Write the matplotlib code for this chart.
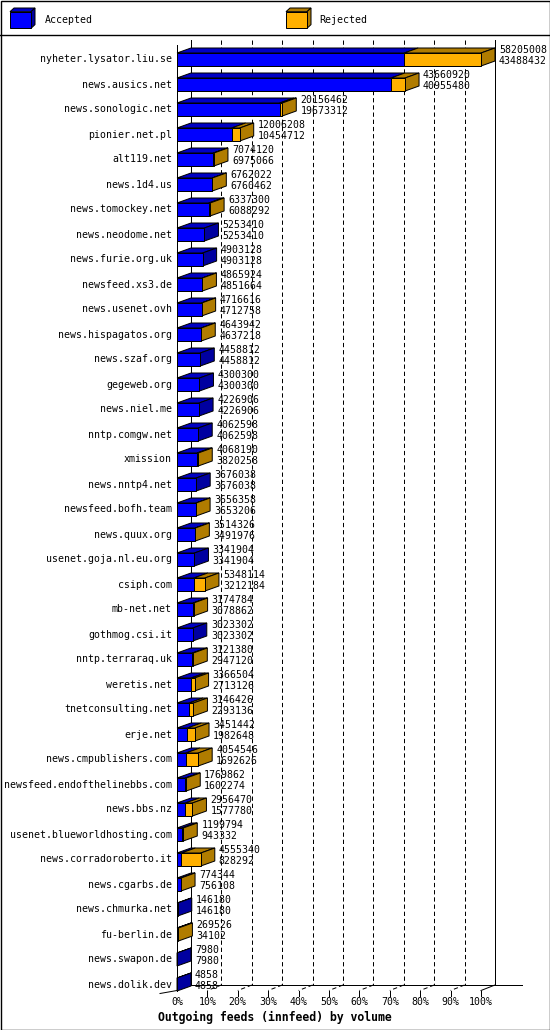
import matplotlib
matplotlib.use("Agg")
import matplotlib.pyplot as plt
from matplotlib.patches import Polygon, Rectangle

# feeds, offered total (top number) and accepted (bottom number)
hosts = [
    "nyheter.lysator.liu.se", "news.ausics.net", "news.sonologic.net",
    "pionier.net.pl", "alt119.net", "news.1d4.us", "news.tomockey.net",
    "news.neodome.net", "news.furie.org.uk", "newsfeed.xs3.de",
    "news.usenet.ovh", "news.hispagatos.org", "news.szaf.org",
    "gegeweb.org", "news.niel.me", "nntp.comgw.net", "xmission",
    "news.nntp4.net", "newsfeed.bofh.team", "news.quux.org",
    "usenet.goja.nl.eu.org", "csiph.com", "mb-net.net", "gothmog.csi.it",
    "nntp.terraraq.uk", "weretis.net", "tnetconsulting.net", "erje.net",
    "news.cmpublishers.com", "newsfeed.endofthelinebbs.com", "news.bbs.nz",
    "usenet.blueworldhosting.com", "news.corradoroberto.it",
    "news.cgarbs.de", "news.chmurka.net", "fu-berlin.de",
    "news.swapon.de", "news.dolik.dev",
]
offered = [
    58205008, 43660920, 20156462, 12006208, 7074120, 6762022, 6337300,
    5253410, 4903128, 4865924, 4716616, 4643942, 4458812, 4300300,
    4226906, 4062598, 4068190, 3676038, 3656358, 3514326, 3341904,
    5348114, 3174784, 3023302, 3121380, 3366504, 3146426, 3451442,
    4054546, 1769862, 2956470, 1199794, 4555340, 774344, 146180,
    269526, 7980, 4858,
]
accepted = [
    43488432, 40955480, 19673312, 10454712, 6975066, 6760462, 6088292,
    5253410, 4903128, 4851664, 4712758, 4637218, 4458812, 4300300,
    4226906, 4062598, 3820258, 3676038, 3653206, 3491976, 3341904,
    3212184, 3078862, 3023302, 2947120, 2713126, 2293136, 1982648,
    1692626, 1602274, 1577780, 943332, 828292, 756108, 146180,
    34102, 7980, 4858,
]
pct_ticks = [0, 10, 20, 30, 40, 50, 60, 70, 80, 90, 100]

BLUE = "#0000ff"
BLUE_TOP = "#0000c4"
BLUE_SIDE = "#0000a0"
ORANGE = "#ffb000"
ORANGE_DARK = "#b07c00"
FONT = "DejaVu Sans Mono"
FS = 7.1
LW = 0.72

W, H = 550, 1030
X0, X1 = 177, 481          # front 0% and 100% in pixels
ROW0, STEP = 59.5, 25.0    # first row centre, row pitch
DX, DY = 14, 5             # depth offset of the 3d look

vmax = max(offered)
s = vmax / (X1 - X0)       # bytes per pixel


def xd(px):
    return (px - X0) * s


def yd(px):
    return (px - ROW0) / STEP


fig = plt.figure(figsize=(W / 100, H / 100), dpi=100)

# pixel axes for frame and legend
pax = fig.add_axes([0, 0, 1, 1])
pax.set_xlim(0, W)
pax.set_ylim(H, 0)
pax.axis("off")

# data axes: x in bytes, y in rows
ax = fig.add_axes([0, 0, 1, 1])
ax.set_xlim(xd(0), xd(W))
ax.set_ylim(yd(H), yd(0))
ax.axis("off")
ax.patch.set_alpha(0)

ddx = DX * s
ddy = -DY / STEP
hh = 6.5 / STEP
dash = (0, (4.3, 2.9))

# back wall grid
for p in pct_ticks:
    xb = vmax * p / 100 + ddx
    ls = "-" if p in (0, 100) else dash
    ax.plot([xb, xb], [yd(40), yd(985)], color="black", lw=LW, ls=ls, zorder=1)
ax.plot([ddx, xd(522)], [yd(985), yd(985)], color="black", lw=LW, zorder=1)
# front axis
ax.plot([0, 0], [yd(45), yd(991)], color="black", lw=LW, zorder=4)
ax.plot([0, xd(160)], [yd(990.5), yd(993.5)], color="black", lw=LW, zorder=4)
# floor ticks
for p in pct_ticks:
    xf = vmax * p / 100
    if p > 0:
        ls = "-" if p == 100 else dash
        ax.plot([xf + ddx, xf], [yd(985), yd(990.5)], color="black", lw=LW,
                ls=ls, zorder=1)
        ax.plot([xf, xf], [yd(990.5), yd(995.5)], color="black", lw=LW, zorder=1)
    ax.text(xf, yd(1002), "%d%%" % p, ha="center", va="center",
            family=FONT, fontsize=FS)

# bars
for i, (name, tot, acc) in enumerate(zip(hosts, offered, accepted)):
    top, bot = i - hh, i + hh
    # top faces
    ax.add_patch(Polygon([(0, top), (acc, top), (acc + ddx, top + ddy), (ddx, top + ddy)],
                         closed=True, fc=BLUE_TOP, ec="black", lw=LW, zorder=3))
    if tot > acc:
        ax.add_patch(Polygon([(acc, top), (tot, top), (tot + ddx, top + ddy), (acc + ddx, top + ddy)],
                             closed=True, fc=ORANGE_DARK, ec="black", lw=LW, zorder=3))
    side = ORANGE_DARK if tot > acc else BLUE_SIDE
    ax.add_patch(Polygon([(tot, top), (tot + ddx, top + ddy), (tot + ddx, bot + ddy), (tot, bot)],
                         closed=True, fc=side, ec="black", lw=LW, zorder=3))
    # front faces
    ax.add_patch(Rectangle((0, top), acc, 2 * hh, fc=BLUE, ec="black", lw=LW, zorder=3))
    if tot > acc:
        ax.add_patch(Rectangle((acc, top), tot - acc, 2 * hh, fc=ORANGE, ec="black",
                               lw=LW, zorder=3))
    ax.text(xd(172), i, name, ha="right", va="center", family=FONT, fontsize=FS, zorder=5)
    tx = tot + ddx + 4 * s
    ax.text(tx, i - 9.5 / STEP, str(tot), ha="left", va="center", family=FONT,
            fontsize=FS, zorder=5)
    ax.text(tx, i + 1.5 / STEP, str(acc), ha="left", va="center", family=FONT,
            fontsize=FS, zorder=5)

# frame and legend box
pax.add_patch(Rectangle((0.5, 0.5), W - 1, H - 1, fill=False, ec="black", lw=1.0))
pax.plot([0, W], [34.5, 34.5], color="black", lw=1.0)


def legend_box(x, front, dark):
    pax.add_patch(Polygon([(x, 11.7), (x + 21, 11.7), (x + 25, 8), (x + 4, 8)],
                          closed=True, fc=dark[0], ec="black", lw=LW))
    pax.add_patch(Polygon([(x + 21, 11.7), (x + 25, 8), (x + 25, 24.6), (x + 21, 28.3)],
                          closed=True, fc=dark[1], ec="black", lw=LW))
    pax.add_patch(Rectangle((x, 11.7), 21, 16.6, fc=front, ec="black", lw=LW))


legend_box(10, BLUE, (BLUE_TOP, BLUE_SIDE))
pax.text(45, 20, "Accepted", ha="left", va="center", family=FONT, fontsize=FS)
legend_box(286, ORANGE, (ORANGE_DARK, ORANGE_DARK))
pax.text(319, 20, "Rejected", ha="left", va="center", family=FONT, fontsize=FS)

pax.text(275, 1017, "Outgoing feeds (innfeed) by volume", ha="center", va="center",
         family=FONT, fontsize=8.3, fontweight="bold")

fig.savefig("out.png", dpi=100)
